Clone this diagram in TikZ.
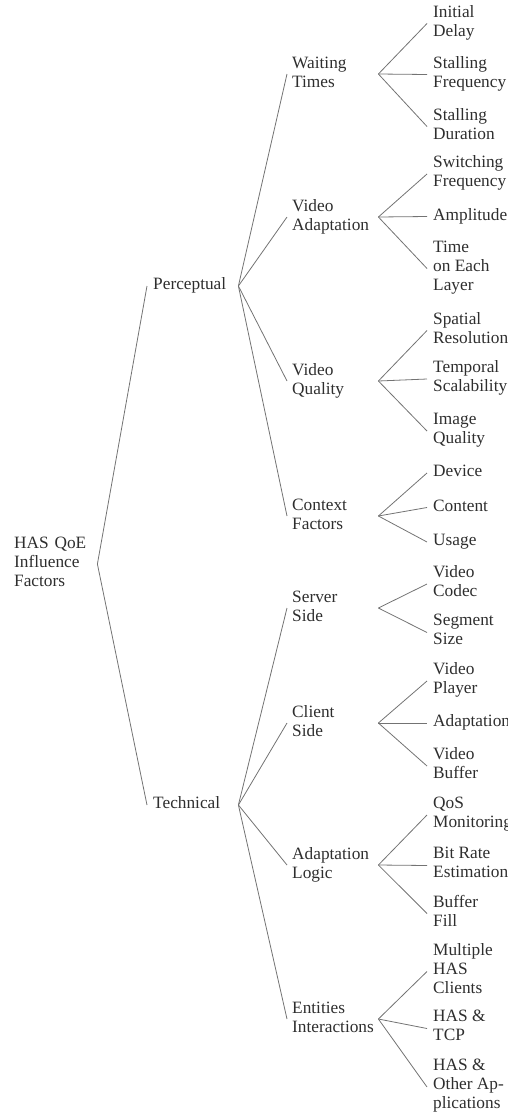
\documentclass[tikz,border=0pt]{standalone}
\usepackage{fontspec}
\setmainfont{Liberation Serif}
\hfuzz=20pt
\hbadness=10000
\begin{document}
\begin{tikzpicture}[x=1pt,y=-1pt,
  every node/.style={font=\fontsize{17.3}{19}\selectfont, inner ysep=0pt, inner xsep=6pt, align=left, anchor=west, text=black!82, execute at begin node=\strut, execute at end node=\strut},
  rootbox/.style={text width=77pt},
  lonebox/.style={text width=79pt},
  ltwobox/.style={inner xsep=5pt, text width=81pt},
  leafbox/.style={},
  conn/.style={draw=black!55, line width=0.8pt}]
\useasboundingbox (0,0) rectangle (508,1117);
\clip (0,0) rectangle (508,1117);
% root
\node[rootbox] (root) at (8,564) {HAS QoE\\Influence\\Factors};
% level 1
\node[lonebox] (perc) at (147,286) {Perceptual};
\node[lonebox] (tech) at (147,805) {Technical};
% level 2
\node[ltwobox] (wait) at (287,74) {Waiting\\Times};
\node[ltwobox] (vada) at (287,217) {Video\\Adaptation};
\node[ltwobox] (vqua) at (287,381) {Video\\Quality};
\node[ltwobox] (ctx) at (287,516) {Context\\Factors};
\node[ltwobox] (serv) at (287,608) {Server\\Side};
\node[ltwobox] (clie) at (287,723) {Client\\Side};
\node[ltwobox] (alog) at (287,865) {Adaptation\\Logic};
\node[ltwobox] (enti) at (287,1019) {Entities\\Interactions};
% leaves
\node[leafbox] (a1) at (427,23.5) {Initial\\Delay};
\node[leafbox] (a2) at (427,74.5) {Stalling\\Frequency};
\node[leafbox] (a3) at (427,126.5) {Stalling\\Duration};
\node[leafbox] (b1) at (427,174) {Switching\\Frequency};
\node[leafbox] (b2) at (427,216.5) {Amplitude};
\node[leafbox] (b3) at (427,268.5) {Time\\on Each\\Layer};
\node[leafbox] (c1) at (427,330.5) {Spatial\\Resolution};
\node[leafbox] (c2) at (427,379) {Temporal\\Scalability};
\node[leafbox] (c3) at (427,431) {Image\\Quality};
\node[leafbox] (d1) at (427,473) {Device};
\node[leafbox] (d2) at (427,507.5) {Content};
\node[leafbox] (d3) at (427,542) {Usage};
\node[leafbox] (e1) at (427,584) {Video\\Codec};
\node[leafbox] (e2) at (427,632.5) {Segment\\Size};
\node[leafbox] (f1) at (427,681) {Video\\Player};
\node[leafbox] (f2) at (427,723) {Adaptation};
\node[leafbox] (f3) at (427,766) {Video\\Buffer};
\node[leafbox] (g1) at (427,815) {QoS\\Monitoring};
\node[leafbox] (g2) at (427,865.5) {Bit Rate\\Estimation};
\node[leafbox] (g3) at (427,913.5) {Buffer\\Fill};
\node[leafbox] (h1) at (427,971.5) {Multiple\\HAS\\Clients};
\node[leafbox] (h2) at (427,1028.5) {HAS \&\\TCP};
\node[leafbox] (h3) at (427,1087) {HAS \&\\Other Ap-\\plications};
% connectors
\draw[conn] (root.east) -- (perc.west);
\draw[conn] (root.east) -- (tech.west);
\foreach \c in {wait,vada,vqua,ctx} \draw[conn] (perc.east) -- (\c.west);
\foreach \c in {serv,clie,alog,enti} \draw[conn] (tech.east) -- (\c.west);
\foreach \c in {a1,a2,a3} \draw[conn] (wait.east) -- (\c.west);
\foreach \c in {b1,b2,b3} \draw[conn] (vada.east) -- (\c.west);
\foreach \c in {c1,c2,c3} \draw[conn] (vqua.east) -- (\c.west);
\foreach \c in {d1,d2,d3} \draw[conn] (ctx.east) -- (\c.west);
\foreach \c in {e1,e2} \draw[conn] (serv.east) -- (\c.west);
\foreach \c in {f1,f2,f3} \draw[conn] (clie.east) -- (\c.west);
\foreach \c in {g1,g2,g3} \draw[conn] (alog.east) -- (\c.west);
\foreach \c in {h1,h2,h3} \draw[conn] (enti.east) -- (\c.west);
\end{tikzpicture}
\end{document}
